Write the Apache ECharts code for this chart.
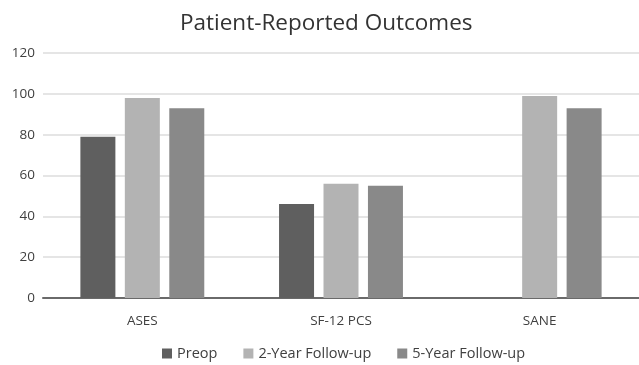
<!DOCTYPE html>
<html>
<head>
<meta charset="utf-8">
<script src="https://cdn.jsdelivr.net/npm/echarts@6/dist/echarts.min.js"></script>
<style>
  html, body { margin: 0; padding: 0; background: #fff; }
  #chart { width: 639px; height: 365px; }
</style>
</head>
<body>
<div id="chart"></div>
<script>
// Chart data
const categories = ["ASES", "SF-12 PCS", "SANE"];
const preop = [79, 46, null];
const year2 = [98, 56, 99];
const year5 = [93, 55, 93];
const seriesNames = ["Preop", "2-Year Follow-up", "5-Year Follow-up"];
const seriesColors = ["#5f5f5f", "#b3b3b3", "#898989"];

const chart = echarts.init(document.getElementById("chart"));
const font = "'Open Sans', sans-serif";

let options = {
    animation: false,
    textStyle: { fontFamily: font },
    title: {
        text: "Patient-Reported Outcomes",
        left: 175,
        top: 7,
        textStyle: { fontFamily: font, fontSize: 22.5, fontWeight: "normal", color: "#333" }
    },
    legend: {
        bottom: -1,
        left: 157,
        itemWidth: 10,
        itemHeight: 10,
        itemGap: 26,
        icon: "rect",
        textStyle: { fontFamily: font, fontSize: 14.5, color: "#404040" },
        data: seriesNames
    },
    grid: { left: 43, right: 0, top: 53, bottom: 67 },
    xAxis: {
        type: "category",
        data: categories,
        axisTick: { show: false },
        axisLine: { lineStyle: { color: "#6a6a6a", width: 2 } },
        axisLabel: { color: "#404040", fontSize: 13.5, margin: 16 }
    },
    yAxis: {
        type: "value",
        min: 0,
        max: 120,
        interval: 20,
        axisLabel: { color: "#404040", fontSize: 13.5, margin: 8 },
        splitLine: { lineStyle: { color: "#dcdcdc", width: 1.5 } }
    },
    series: [preop, year2, year5].map((d, i) => ({
        name: seriesNames[i],
        type: "bar",
        data: d,
        barWidth: 35,
        barGap: "27%",
        itemStyle: { color: seriesColors[i] }
    }))
};

chart.setOption(options);
</script>
</body>
</html>
